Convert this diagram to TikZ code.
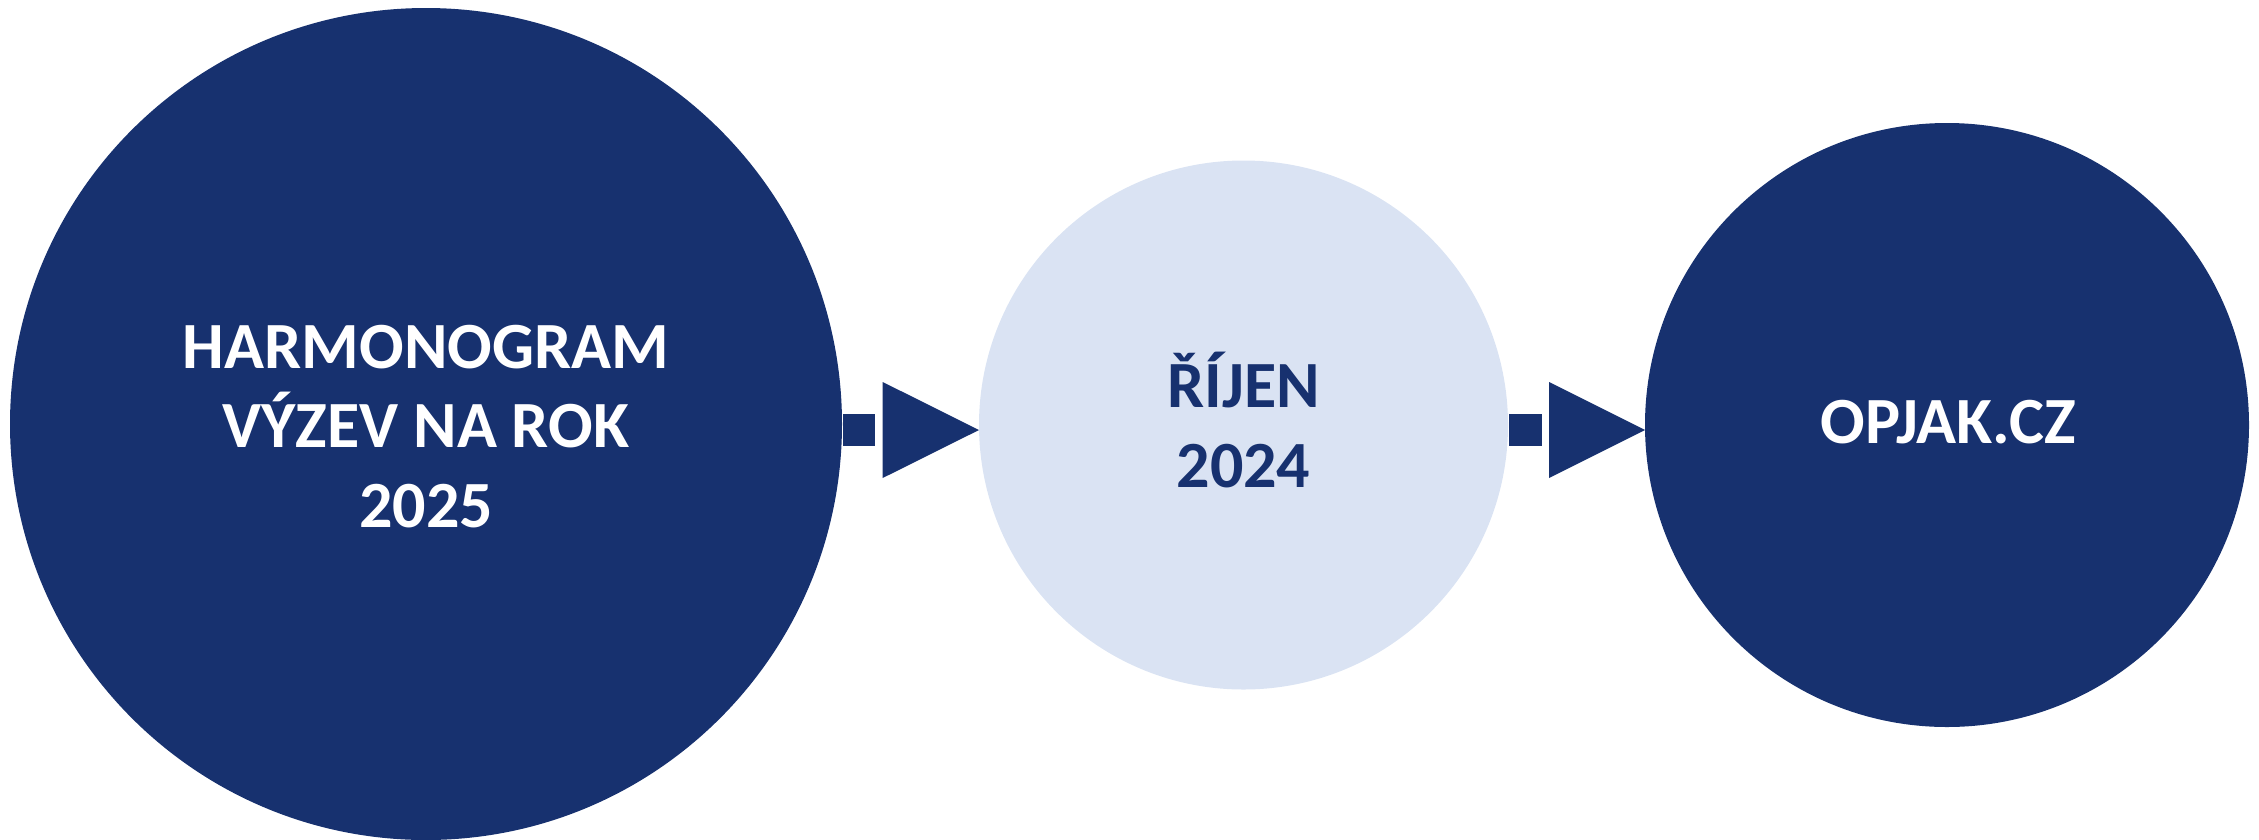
\documentclass[tikz,border=0pt]{standalone}
\usepackage{fontspec}
\setmainfont{Carlito}[BoldFont={Carlito Bold}]
\newfontfamily\lblfont{Carlito Bold}
\definecolor{navy}{RGB}{23,49,111}
\definecolor{pale}{RGB}{218,227,243}
\begin{document}
\begin{tikzpicture}[x=1pt,y=-1pt,
  disc/.style={circle,inner sep=0pt,outer sep=0pt,draw=none},
  lbl/.style={anchor=base,inner sep=0pt,font=\lblfont\fontsize{66}{80}\selectfont},
  arrowpart/.style={fill=navy,draw=none}]
\useasboundingbox (0,0) rectangle (2259,839);
% circles
\node[disc,fill=navy,minimum size=832] (c1) at (426,424) {};
\node[disc,fill=pale,minimum size=529] (c2) at (1243.5,425) {};
\node[disc,fill=navy,minimum size=604] (c3) at (1947,425) {};
% texts
\node[lbl,text=white] (h1) at (426,368) {HARMONOGRAM};
\node[lbl,text=white] (h2) at (426,447) {VÝZEV NA ROK};
\node[lbl,text=white] (h3) at (426,527) {2025};
\node[lbl,text=navy] (m1) at (1243.5,407) {ŘÍJEN};
\node[lbl,text=navy] (m2) at (1243.5,487) {2024};
\node[lbl,text=white] (r1) at (1948,443) {OPJAK.CZ};
% arrow 1
\fill[arrowpart] (842.7,414) rectangle (875,446);
\fill[arrowpart] (882.7,382) -- (979,430) -- (882.7,478) -- cycle;
% arrow 2
\fill[arrowpart] (1509,414) rectangle (1542,446);
\fill[arrowpart] (1549,382) -- (1645,430) -- (1549,478) -- cycle;
\end{tikzpicture}
\end{document}
